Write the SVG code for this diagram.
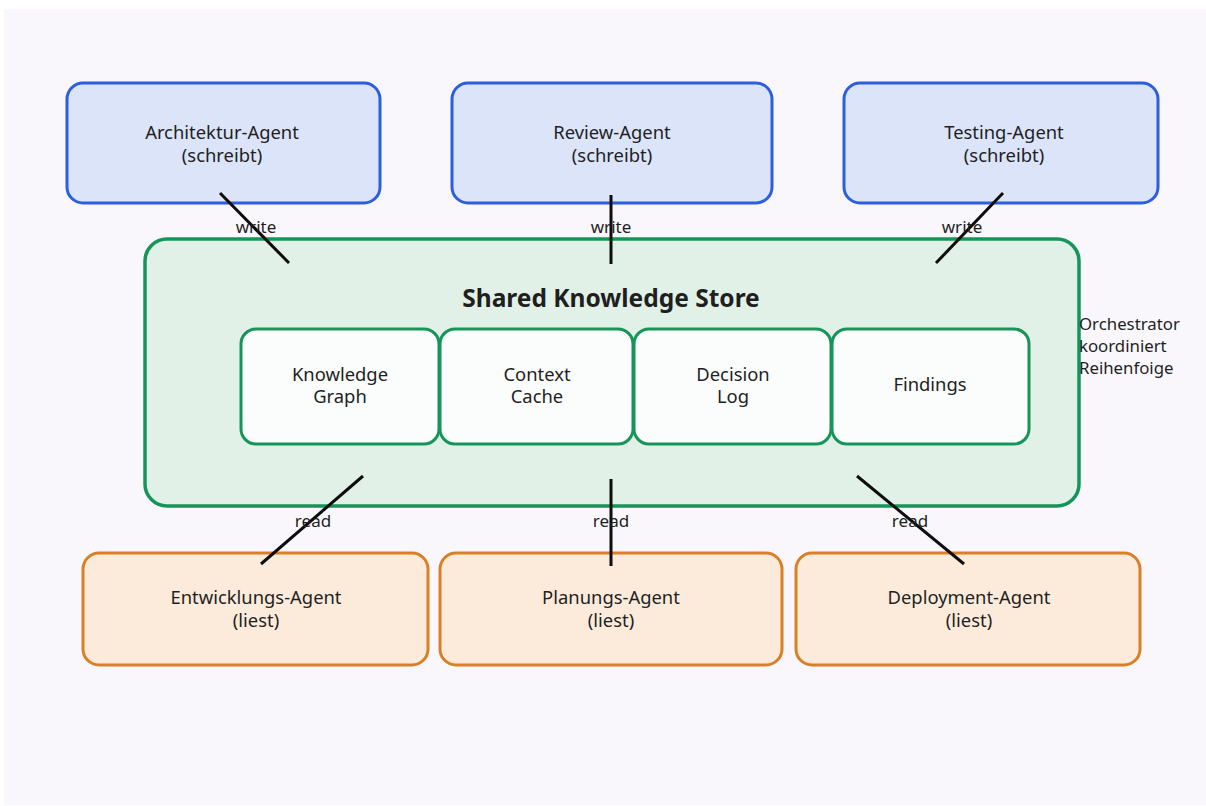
<svg xmlns="http://www.w3.org/2000/svg" width="1206" height="806" viewBox="0 0 1206 806">
  <style>
    .txt { font-family: "Noto Sans", "DejaVu Sans", sans-serif; fill: #1f1f1f; }
    .agent { font-size: 18.4px; text-anchor: middle; }
    .writer { fill: #dce4fa; stroke: #2c5fdd; stroke-width: 3; }
    .reader { fill: #fcebdb; stroke: #d98026; stroke-width: 3; }
    .store { fill: #e2f1e7; stroke: #16955a; stroke-width: 3.5; }
    .part { fill: #fbfcfc; stroke: #16955a; stroke-width: 3; }
    .part-label { font-size: 18.4px; text-anchor: middle; }
    .edge { stroke: #0d0d0d; stroke-width: 3; stroke-linecap: butt; }
    .edge-label { font-size: 17px; text-anchor: middle; }
    .note { font-size: 16.8px; }
  </style>

  <rect x="0" y="0" width="1206" height="806" fill="#ffffff"/>
  <rect x="4" y="9" width="1202" height="796" fill="#f9f7fb"/>

  <!-- writing agents -->
  <g id="architektur-agent">
    <rect class="writer" x="67" y="83" width="313" height="120" rx="16"/>
    <text class="txt agent" x="222" y="139">Architektur-Agent</text>
    <text class="txt agent" x="222" y="162">(schreibt)</text>
  </g>
  <g id="review-agent">
    <rect class="writer" x="452" y="83" width="320" height="120" rx="16"/>
    <text class="txt agent" x="612" y="139">Review-Agent</text>
    <text class="txt agent" x="612" y="162">(schreibt)</text>
  </g>
  <g id="testing-agent">
    <rect class="writer" x="844" y="83" width="314" height="120" rx="16"/>
    <text class="txt agent" x="1004" y="139">Testing-Agent</text>
    <text class="txt agent" x="1004" y="162">(schreibt)</text>
  </g>

  <!-- shared store -->
  <g id="shared-knowledge-store">
    <rect class="store" x="145" y="239" width="934" height="267" rx="22"/>
    <text class="txt" x="611" y="307" font-size="24.5" font-weight="bold" text-anchor="middle">Shared Knowledge Store</text>
  </g>
  <g id="knowledge-graph">
    <rect class="part" x="241" y="329" width="198" height="115" rx="15"/>
    <text class="txt part-label" x="340" y="381">Knowledge</text>
    <text class="txt part-label" x="340" y="403">Graph</text>
  </g>
  <g id="context-cache">
    <rect class="part" x="440" y="329" width="193" height="115" rx="15"/>
    <text class="txt part-label" x="537" y="381">Context</text>
    <text class="txt part-label" x="537" y="403">Cache</text>
  </g>
  <g id="decision-log">
    <rect class="part" x="634" y="329" width="197" height="115" rx="15"/>
    <text class="txt part-label" x="733" y="381">Decision</text>
    <text class="txt part-label" x="733" y="403">Log</text>
  </g>
  <g id="findings">
    <rect class="part" x="832" y="329" width="197" height="115" rx="15"/>
    <text class="txt part-label" x="930" y="391">Findings</text>
  </g>

  <g id="orchestrator-note">
    <text class="txt note" x="1079" y="330">Orchestrator</text>
    <text class="txt note" x="1079" y="352">koordiniert</text>
    <text class="txt note" x="1079" y="374">Reihenfoige</text>
  </g>

  <!-- reading agents -->
  <g id="entwicklungs-agent">
    <rect class="reader" x="83" y="553" width="345" height="112" rx="16"/>
    <text class="txt agent" x="256" y="604">Entwicklungs-Agent</text>
    <text class="txt agent" x="256" y="627">(liest)</text>
  </g>
  <g id="planungs-agent">
    <rect class="reader" x="440" y="553" width="342" height="112" rx="16"/>
    <text class="txt agent" x="611" y="604">Planungs-Agent</text>
    <text class="txt agent" x="611" y="627">(liest)</text>
  </g>
  <g id="deployment-agent">
    <rect class="reader" x="796" y="553" width="344" height="112" rx="16"/>
    <text class="txt agent" x="969" y="604">Deployment-Agent</text>
    <text class="txt agent" x="969" y="627">(liest)</text>
  </g>

  <!-- connectors -->
  <g id="connectors">
    <line class="edge" x1="220" y1="193" x2="289" y2="263"/>
    <line class="edge" x1="611" y1="195" x2="611" y2="264"/>
    <line class="edge" x1="1003" y1="193" x2="936" y2="263"/>
    <line class="edge" x1="363" y1="476" x2="261" y2="564"/>
    <line class="edge" x1="611" y1="479" x2="611" y2="566"/>
    <line class="edge" x1="857" y1="476" x2="964" y2="564"/>
    <text class="txt edge-label" x="256" y="233">write</text>
    <text class="txt edge-label" x="611" y="233">write</text>
    <text class="txt edge-label" x="962" y="233">write</text>
    <text class="txt edge-label" x="313" y="527">read</text>
    <text class="txt edge-label" x="611" y="527">read</text>
    <text class="txt edge-label" x="910" y="527">read</text>
  </g>
</svg>
